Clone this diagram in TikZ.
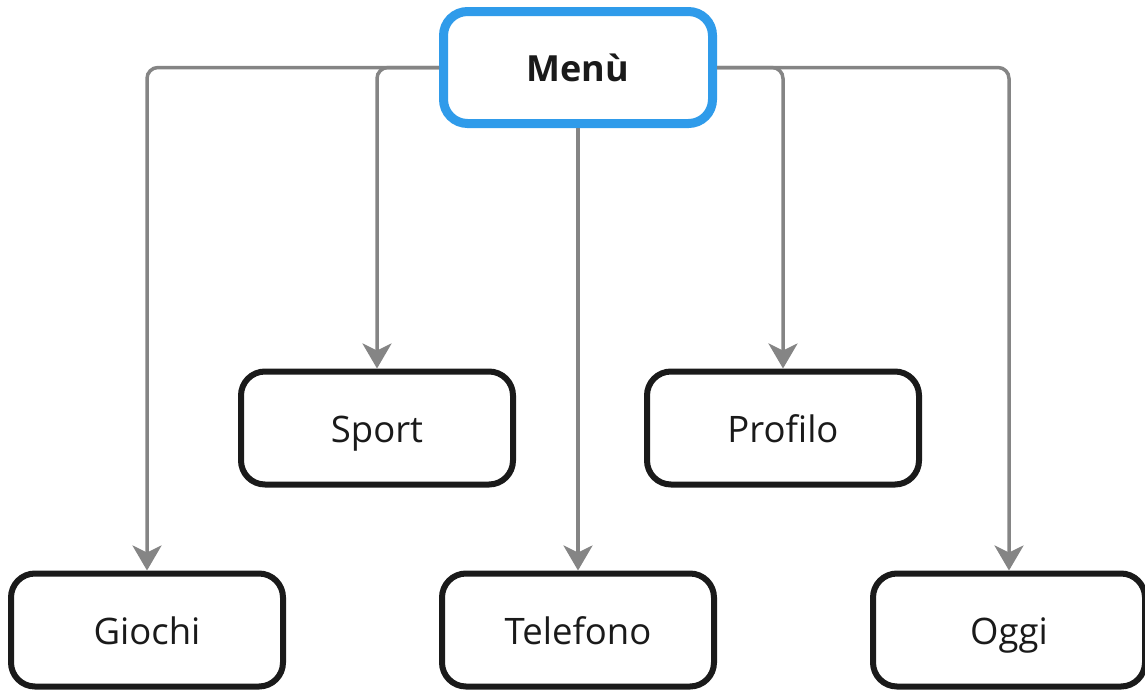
\documentclass[tikz,border=0pt]{standalone}
\usepackage{fontspec}
\setmainfont{Open Sans}
\usetikzlibrary{arrows.meta}
\definecolor{boxblue}{HTML}{2F9BEA}
\definecolor{conngrey}{HTML}{858585}
\definecolor{txt}{HTML}{1A1A1A}
\tikzset{
  item/.style={draw=txt, line width=6pt, rounded corners=24pt, fill=white,
    minimum width=272pt, minimum height=113pt, inner sep=0pt,
    text height=30pt, text depth=2pt,
    font=\fontsize{36.5}{40}\selectfont, text=txt},
  rootbox/.style={item, draw=boxblue, line width=9pt, minimum width=269pt, minimum height=112pt,
    font=\fontsize{36}{40}\selectfont\bfseries},
  conn/.style={draw=conngrey, line width=3.5pt, rounded corners=11pt,
    -{Stealth[length=25pt, width=29pt, inset=7pt]}},
}
\begin{document}
\begin{tikzpicture}[x=1pt, y=-1pt]
\useasboundingbox (0,0) rectangle (1145,691);
\node[rootbox] (menu) at (578,67.5) {Menù};
\node[item] (sport) at (377,428) {Sport};
\node[item] (profilo) at (783,428) {Profilo};
\node[item] (giochi) at (147,630) {Giochi};
\node[item] (telefono) at (578,630) {Telefono};
\node[item] (oggi) at (1009,630) {Oggi};
\draw[conn] (menu.west) -| (giochi.north);
\draw[conn] (menu.west) -| (sport.north);
\draw[conn] (menu.south) -- (telefono.north);
\draw[conn] (menu.east) -| (profilo.north);
\draw[conn] (menu.east) -| (oggi.north);
\end{tikzpicture}
\end{document}
